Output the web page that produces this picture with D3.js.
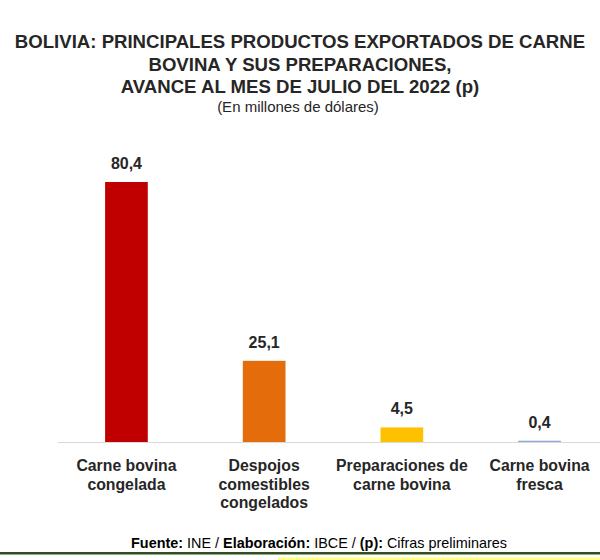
<!DOCTYPE html>
<html><head><meta charset="utf-8">
<script src="https://cdn.jsdelivr.net/npm/d3@7"></script>
<style>body{margin:0;background:#fff}svg{display:block}</style>
</head><body>
<svg id="c" width="600" height="560"></svg>
<script>
const categories = [["Carne bovina","congelada"],["Despojos","comestibles","congelados"],["Preparaciones de","carne bovina"],["Carne bovina","fresca"]];
const values = [80.4, 25.1, 4.5, 0.4];
const colors = ["#c00000","#e46c0a","#ffc000","#8eaadb"];
const titleLines = ["BOLIVIA: PRINCIPALES PRODUCTOS EXPORTADOS DE CARNE","BOVINA Y SUS PREPARACIONES,","AVANCE AL MES DE JULIO DEL 2022 (p)"];
const subtitle = "(En millones de dólares)";

const svg = d3.select("#c");
const font = "Arial, 'Liberation Sans', sans-serif";
const base = 442;
const x = d3.scaleBand().domain(d3.range(values.length)).range([57.6, 608.4]).paddingInner(0.69).paddingOuter(0.345);
const y = d3.scaleLinear().domain([0, 80.4]).range([base, 182]);

svg.selectAll("text.t").data(titleLines).join("text").attr("class","t")
  .attr("x",300).attr("y",(d,i)=>48+i*22.5).attr("text-anchor","middle")
  .attr("font-family",font).attr("font-weight","bold").attr("font-size",18.6).attr("fill","#262626").text(d=>d);
svg.append("text").attr("x",298).attr("y",112).attr("text-anchor","middle")
  .attr("font-family",font).attr("font-size",15).attr("fill","#262626").text(subtitle);

svg.append("line").attr("x1",58).attr("x2",600).attr("y1",base+0.5).attr("y2",base+0.5).attr("stroke","#d9d9d9").attr("stroke-width",1);

svg.selectAll("rect.b").data(values).join("rect").attr("class","b")
  .attr("x",(d,i)=>x(i)).attr("width",x.bandwidth())
  .attr("y",d=>y(d)).attr("height",d=>Math.max(1,base-y(d))).attr("fill",(d,i)=>colors[i]);

svg.selectAll("text.v").data(values).join("text").attr("class","v")
  .attr("x",(d,i)=>x(i)+x.bandwidth()/2).attr("y",d=>y(d)-13).attr("text-anchor","middle")
  .attr("font-family",font).attr("font-weight","bold").attr("font-size",16).attr("fill","#262626")
  .text(d=>d.toFixed(1).replace(".",","));

categories.forEach((lines,i)=>{
  const t = svg.append("text").attr("text-anchor","middle").attr("font-family",font).attr("font-weight","bold")
    .attr("font-size",15.8).attr("fill","#262626");
  lines.forEach((l,j)=>t.append("tspan").attr("x",x(i)+x.bandwidth()/2).attr("y",471+j*18.5).text(l));
});

const f = svg.append("text").attr("x",319).attr("y",548).attr("text-anchor","middle")
  .attr("font-family",font).attr("font-size",14.4).attr("fill","#000");
[["Fuente:",true],[" INE / ",false],["Elaboración:",true],[" IBCE / ",false],["(p):",true],[" Cifras preliminares",false]]
  .forEach(([s,b])=>f.append("tspan").attr("font-weight",b?"bold":"normal").text(s));

svg.append("rect").attr("x",0).attr("y",552).attr("width",600).attr("height",2.5).attr("fill","#2f4f1f");
svg.append("rect").attr("x",278).attr("y",557.5).attr("width",322).attr("height",2.5).attr("fill","#ffff80");
</script>
</body></html>
